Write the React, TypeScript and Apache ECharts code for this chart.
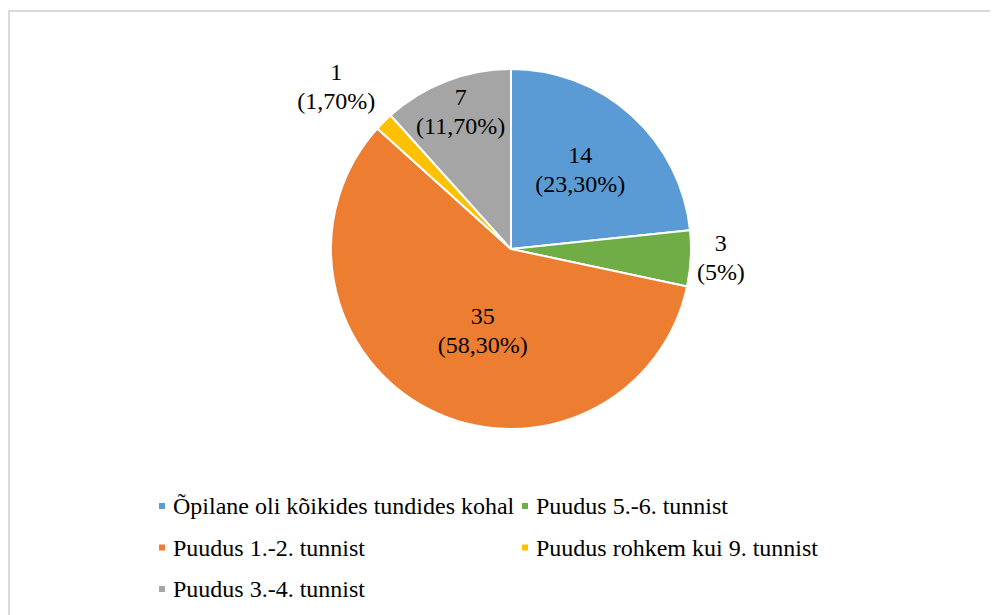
import React, { useEffect, useRef } from "react";
import * as echarts from "echarts";

const categories = [
  "Õpilane oli kõikides tundides kohal",
  "Puudus 5.-6. tunnist",
  "Puudus 1.-2. tunnist",
  "Puudus rohkem kui 9. tunnist",
  "Puudus 3.-4. tunnist",
];
const values = [14, 3, 35, 1, 7];
const percentLabels = ["23,30%", "5%", "58,30%", "1,70%", "11,70%"];
const colors = ["#5B9BD5", "#70AD47", "#ED7D31", "#FFC000", "#A5A5A5"];
// label offsets relative to the default inside position
const labelOffsets = [
  [7, -10],
  [117, 4],
  [14, -1],
  [-109, -97],
  [-17, -51],
];
const legendLeftColumn = [categories[0], categories[2], categories[4]];
const legendRightColumn = [categories[1], categories[3]];

const FONT = "Liberation Serif, Times New Roman, serif";

export default function App() {
  const ref = useRef<HTMLDivElement>(null);
  useEffect(() => {
    if (!ref.current) return;
    const chart = echarts.init(ref.current, null, { renderer: "svg" });
    const legendCommon = {
      orient: "vertical",
      top: 485,
      padding: 0,
      icon: "rect",
      itemWidth: 8,
      itemHeight: 8,
      itemGap: 15.5,
      selectedMode: false,
      textStyle: {
        fontFamily: FONT,
        fontSize: 24,
        color: "#000",
        lineHeight: 26,
        padding: [0, 0, 0, 2],
      },
    };
    chart.setOption({
      animation: false,
      color: colors,
      textStyle: { fontFamily: FONT },
      legend: [
        { ...legendCommon, left: 149, data: legendLeftColumn },
        { ...legendCommon, left: 512, data: legendRightColumn },
      ],
      graphic: [
        { type: "line", shape: { x1: 0, y1: 3, x2: 990, y2: 3 }, style: { stroke: "#D9D9D9", lineWidth: 2 } },
        { type: "line", shape: { x1: 1, y1: 3, x2: 1, y2: 607 }, style: { stroke: "#D9D9D9", lineWidth: 2 } },
      ],
      series: [
        {
          type: "pie",
          center: [503, 241],
          radius: [0, 180],
          startAngle: 90,
          clockwise: true,
          avoidLabelOverlap: false,
          itemStyle: { borderColor: "#fff", borderWidth: 2 },
          labelLine: { show: false },
          emphasis: { disabled: true },
          data: categories.map((name, i) => ({
            name,
            value: values[i],
            label: {
              show: true,
              position: "inside",
              offset: labelOffsets[i],
              formatter: `${values[i]}\n(${percentLabels[i]})`,
              fontFamily: FONT,
              fontSize: 24,
              lineHeight: 29,
              color: "#000",
              align: "center",
            },
          })),
        },
      ],
    });
    return () => chart.dispose();
  }, []);
  return <div ref={ref} style={{ width: 990, height: 607 }} />;
}
